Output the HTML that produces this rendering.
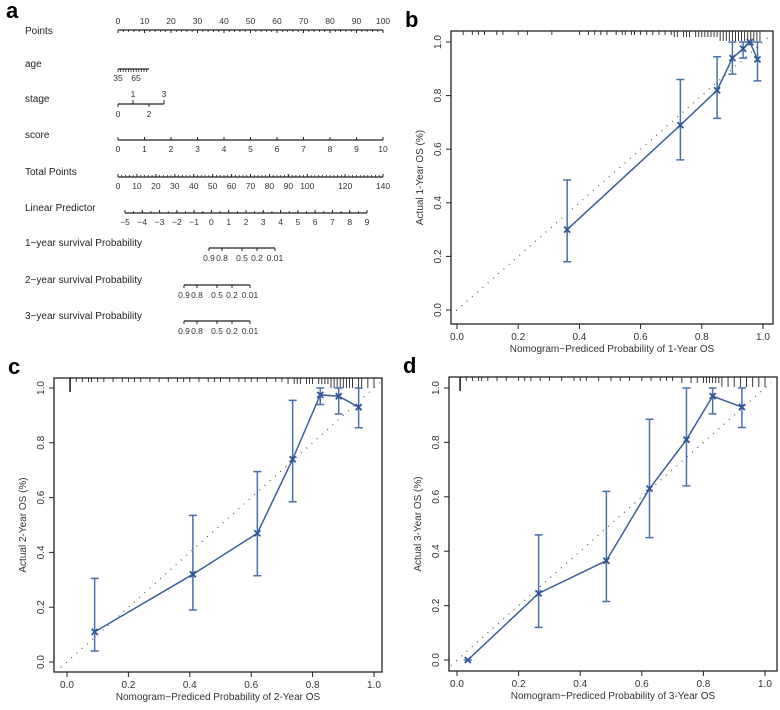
<!DOCTYPE html>
<html><head><meta charset="utf-8">
<style>
body{margin:0;background:#fff;}
svg{display:block;font-family:"Liberation Sans",sans-serif;}
</style></head>
<body>
<svg id="fig" width="780" height="710" viewBox="0 0 780 710">
<g id="nomo"></g>
<g id="pb"></g>
<g id="pc"></g>
<g id="pd"></g>
</svg>
<script>
// ---- calibration data ----
const bPred=[0.36,0.73,0.85,0.90,0.935,0.957,0.982];
const bObs=[0.30,0.69,0.82,0.94,0.975,1.0,0.935];
const bLo=[0.18,0.56,0.715,0.88,0.94,0.99,0.855];
const bHi=[0.485,0.86,0.945,1.0,1.0,1.0,1.0];
const cPred=[0.09,0.41,0.62,0.735,0.825,0.885,0.95];
const cObs=[0.11,0.32,0.47,0.74,0.975,0.97,0.93];
const cLo=[0.04,0.19,0.315,0.585,0.94,0.905,0.855];
const cHi=[0.305,0.535,0.695,0.955,1.0,1.0,1.0];
const dPred=[0.035,0.265,0.485,0.625,0.745,0.83,0.925];
const dObs=[0.0,0.245,0.365,0.63,0.81,0.97,0.93];
const dLo=[0.0,0.12,0.215,0.45,0.64,0.905,0.855];
const dHi=[0.0,0.46,0.62,0.885,1.0,1.0,1.0];
const axisTicks=[0,0.2,0.4,0.6,0.8,1.0];
const axisTickLabels=["0.0","0.2","0.4","0.6","0.8","1.0"];
const rugB=[0.02,0.05,0.07,0.09,0.13,0.15,0.2,0.23,0.31,0.4,0.43,0.45,0.47,0.49,0.52,0.54,0.55,0.57,0.58,0.6,0.62,0.64,0.66,0.68,0.7,0.71,0.72,0.74,0.75,0.76,0.78,0.79,0.8,0.81,0.82,0.83,0.84,0.85,0.86,0.87,0.88,0.89,0.9,0.91,0.92,0.93,0.94,0.95,0.96,0.97,0.98,0.99];
const rugC=[0.01,0.03,0.05,0.07,0.08,0.1,0.12,0.15,0.18,0.2,0.22,0.24,0.27,0.3,0.33,0.36,0.38,0.4,0.43,0.46,0.48,0.5,0.53,0.56,0.58,0.6,0.62,0.65,0.68,0.7,0.72,0.74,0.75,0.76,0.78,0.79,0.8,0.82,0.83,0.84,0.85,0.86,0.87,0.88,0.89,0.9,0.91,0.92,0.93,0.95,0.96,0.98,1.0];
const rugD=[0.01,0.03,0.05,0.07,0.08,0.1,0.13,0.16,0.2,0.22,0.24,0.27,0.3,0.34,0.38,0.4,0.42,0.46,0.5,0.53,0.56,0.6,0.63,0.66,0.68,0.7,0.73,0.76,0.78,0.8,0.81,0.82,0.83,0.84,0.85,0.86,0.88,0.9,0.92,0.94,0.96,0.98,1.0];

const NS="http://www.w3.org/2000/svg";
function mk(parent,tag,attrs,text){const e=document.createElementNS(NS,tag);for(const k in attrs)e.setAttribute(k,attrs[k]);if(text!==undefined)e.textContent=text;parent.appendChild(e);return e;}

function calib(gid,letter,box,xr,yr,pred,obs,lo,hi,rug,xtitle,ytitle){
  const g=document.getElementById(gid);
  const sx=v=>xr[0]+v*(xr[1]-xr[0]);
  const sy=v=>yr[0]+v*(yr[1]-yr[0]);
  let t=mk(g,'text',{x:box.l-46,y:box.t-4,'font-size':22,'font-weight':'bold'},letter);
  
  
  let r=mk(g,'rect',{x:box.l,y:box.t,width:box.r-box.l,height:box.b-box.t,fill:'none',stroke:'#222','stroke-width':1.3});
  
  
  axisTicks.forEach((v,i)=>{
    mk(g,'line',{x1:sx(v),x2:sx(v),y1:box.b,y2:box.b+5,stroke:'#222'});
    let tx=mk(g,'text',{x:sx(v),y:box.b+16,'font-size':10,'text-anchor':'middle',fill:'#333'},axisTickLabels[i]);
    
    
    mk(g,'line',{x1:box.l-5,x2:box.l,y1:sy(v),y2:sy(v),stroke:'#222'});
    let ty=mk(g,'text',{x:box.l-10,y:sy(v),'font-size':10,'text-anchor':'middle',fill:'#333',transform:`rotate(-90 ${box.l-10} ${sy(v)})`},axisTickLabels[i]);
    
    
  });
  let xt=mk(g,'text',{x:(box.l+box.r)/2,y:box.b+28,'font-size':10,'text-anchor':'middle',fill:'#333'},xtitle);
  
  
  const yc=(box.t+box.b)/2;
  let yt=mk(g,'text',{x:box.l-28,y:yc,'font-size':10,'text-anchor':'middle',fill:'#333',transform:`rotate(-90 ${box.l-28} ${yc})`},ytitle);
  
  
  rug.forEach((v,i)=>{
    const len=v>0.85?10:(v<0.02?14:(v>0.7?6:4));
    let l=mk(g,'line',{x1:sx(v),x2:sx(v),y1:box.t,y2:box.t+len,stroke:'#222','stroke-width':v<0.02?1.6:0.9});
    
    
  });
  let id=mk(g,'line',{x1:sx(-0.02),y1:sy(-0.02),x2:sx(1.02),y2:sy(1.02),stroke:'#555','stroke-width':1.2,'stroke-dasharray':'1 6'});
  
  
  let pts=pred.map((p,i)=>sx(p)+','+sy(obs[i])).join(' ');
  let pl=mk(g,'polyline',{points:pts,fill:'none',stroke:'#3b5e98','stroke-width':1.5});
  
  
  pred.forEach((p,i)=>{
    const x=sx(p);
    let eb=mk(g,'path',{d:`M${x},${sy(lo[i])}V${sy(hi[i])}M${x-4},${sy(lo[i])}H${x+4}M${x-4},${sy(hi[i])}H${x+4}`,stroke:'#4a70a8','stroke-width':1.5,fill:'none'});
    
    
    const y=sy(obs[i]);
    let m=mk(g,'path',{d:`M${x-3},${y-3}L${x+3},${y+3}M${x-3},${y+3}L${x+3},${y-3}`,stroke:'#2f5597','stroke-width':1.8});
    
    
  });
}
calib('pb','b',{l:451,r:773,t:31,b:324},[457,763],[310,42],bPred,bObs,bLo,bHi,rugB,'Nomogram\u2212Prediced Probability of 1-Year OS','Actual 1-Year OS (%)');
calib('pc','c',{l:54,r:382,t:378,b:672},[67,374],[662,388],cPred,cObs,cLo,cHi,rugC,'Nomogram\u2212Prediced Probability of 2-Year OS','Actual 2-Year OS (%)');
calib('pd','d',{l:449,r:777,t:377,b:671},[457,765],[660,388],dPred,dObs,dLo,dHi,rugD,'Nomogram\u2212Prediced Probability of 3-Year OS','Actual 3-Year OS (%)');

// ---- nomogram ----
const rowLabels=["Points","age","stage","score","Total Points","Linear Predictor","1\u2212year survival Probability","2\u2212year survival Probability","3\u2212year survival Probability"];
const pointsTicks=[0,10,20,30,40,50,60,70,80,90,100];
const scoreTicks=[0,1,2,3,4,5,6,7,8,9,10];
const totalTicks=[0,10,20,30,40,50,60,70,80,90,100,120,140];
const lpTicks=[-5,-4,-3,-2,-1,0,1,2,3,4,5,6,7,8,9];
const survLabels=["0.9","0.8","0.5","0.2","0.01"];
(function(){
  const g=document.getElementById('nomo');
  let a=mk(g,'text',{x:6,y:18,'font-size':22,'font-weight':'bold'},'a');
  
  
  const rowY=[30,69,104,140,177,213,248,285,321];
  rowLabels.forEach((s,i)=>{
    let t=mk(g,'text',{x:25,y:rowY[i]+(i==0?4:-2),'font-size':10,fill:'#222'},s);
    
    
  });
  const x0=118,x1=383;
  function axis(y,a,b,ticks,labels,lo,hi,minorStep,labelAbove,name){
    const s=v=>a+(v-lo)/(hi-lo)*(b-a);
    let l=mk(g,'line',{x1:a,x2:b,y1:y,y2:y,stroke:'#222','stroke-width':1.3});
    
    
    if(minorStep){for(let v=lo;v<=hi+1e-9;v+=minorStep){mk(g,'line',{x1:s(v),x2:s(v),y1:y,y2:y+(labelAbove?2:-2),stroke:'#222','stroke-width':0.8});}}
    ticks.forEach((v,i)=>{
      mk(g,'line',{x1:s(v),x2:s(v),y1:y,y2:y+(labelAbove?3:-3),stroke:'#222'});
      let t=mk(g,'text',{x:s(v),y:labelAbove?y-6:y+12,'font-size':8.5,'text-anchor':'middle',fill:'#333'},labels[i]);
      
      
    });
  }
  axis(30,x0,x1,pointsTicks,pointsTicks.map(String),0,100,2,true,'points-axis');
  mk(g,'line',{x1:118,x2:149,y1:69,y2:69,stroke:'#222','stroke-width':1.3});
  for(let x=118;x<=149;x+=2.6)mk(g,'line',{x1:x,x2:x,y1:69,y2:72,stroke:'#222','stroke-width':0.8});
  mk(g,'text',{x:118,y:81,'font-size':8.5,'text-anchor':'middle',fill:'#333'},'35');
  mk(g,'text',{x:136,y:81,'font-size':8.5,'text-anchor':'middle',fill:'#333'},'65');
  mk(g,'line',{x1:118,x2:164,y1:104,y2:104,stroke:'#222','stroke-width':1.3});
  [[118,'0',1],[133,'1',0],[149,'2',1],[164,'3',0]].forEach(([x,s,below])=>{
    mk(g,'line',{x1:x,x2:x,y1:104,y2:below?107:100,stroke:'#222'});
    mk(g,'text',{x:x,y:below?117:97,'font-size':8.5,'text-anchor':'middle',fill:'#333'},s);
  });
  axis(140,x0,x1,scoreTicks,scoreTicks.map(String),0,10,0,false,'score-axis');
  axis(177,x0,x1,totalTicks,totalTicks.map(String),0,140,2,false,'total-points-axis');
  axis(213,125,367,lpTicks,lpTicks.map(v=>v<0?'\u2212'+(-v):String(v)),-5,9,0.5,false,'linear-predictor-axis');
  const sPos=[0,13,33,48,66];
  [[209,248],[184,285],[184,321]].forEach(([xs,y],k)=>{
    let l=mk(g,'line',{x1:xs,x2:xs+66,y1:y,y2:y,stroke:'#222','stroke-width':1.3});
    
    
    sPos.forEach((p,i)=>{
      mk(g,'line',{x1:xs+p,x2:xs+p,y1:y,y2:y+3,stroke:'#222'});
      mk(g,'text',{x:xs+p,y:y+13,'font-size':8.5,'text-anchor':'middle',fill:'#333'},survLabels[i]);
    });
  });
})();
</script>
</body></html>
